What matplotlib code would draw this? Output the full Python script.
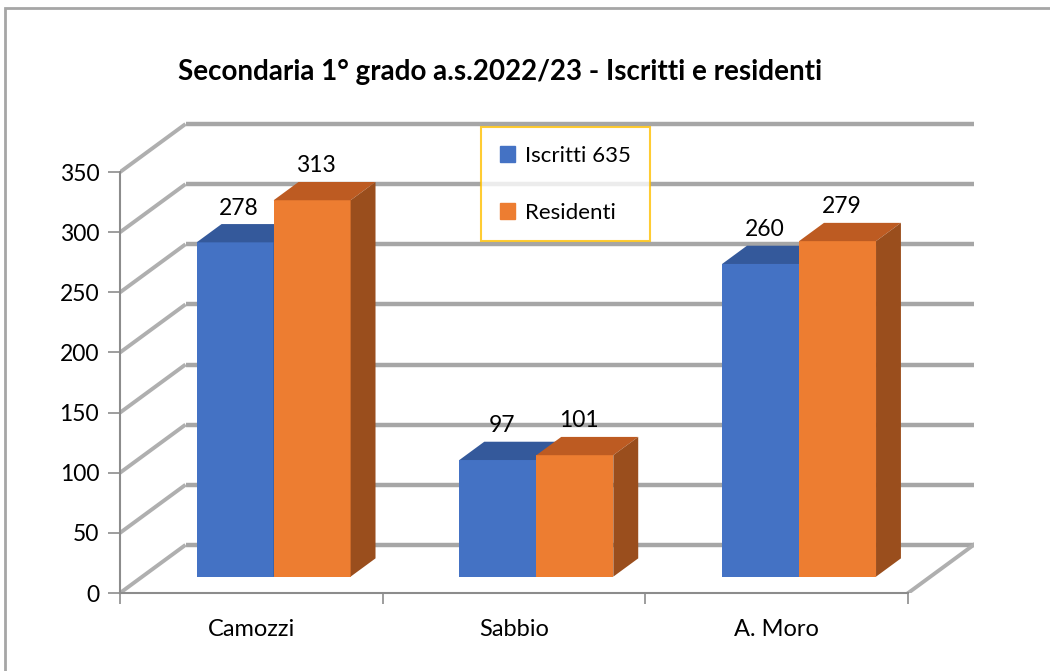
import matplotlib.pyplot as plt
from matplotlib.patches import Patch, Rectangle

# data
categories = ["Camozzi", "Sabbio", "A. Moro"]
iscritti = [278, 97, 260]
residenti = [313, 101, 279]
series_names = ["Iscritti 635", "Residenti"]
title = "Secondaria 1° grado a.s.2022/23 - Iscritti e residenti"
yticks = list(range(0, 351, 50))

# colours (front, top, side)
BLUE = ("#4472C4", "#34599B", "#2B4B80")
ORANGE = ("#ED7D31", "#BD5B22", "#9A4E1D")
GRID = "#A6A6A6"

plt.rcParams["font.family"] = ["Lato", "DejaVu Sans"]

# oblique "3d" projection: depth z in [0, 1]
DX = 0.2494   # x shift of the back wall, category units
DV = 40.0     # y shift of the back wall, value units
Z0, Z1 = 0.34, 0.72   # bar front / back depth
W = 0.293             # bar width, category units

fig = plt.figure(figsize=(10.5, 6.71), dpi=100)
ax = fig.add_axes([0.11429, 0.11624, 0.8130, 0.7079])
ax.set_xlim(0, 3 + DX)
ax.set_ylim(0, 395)

# back wall gridlines + left wall diagonals
for v in yticks:
    ax.plot([DX, 3 + DX], [v + DV, v + DV], color=GRID, lw=3.2, zorder=1,
            solid_capstyle="butt")
    ax.plot([0, DX], [v, v + DV], color="#AFAFAF", lw=2.8, zorder=1,
            solid_capstyle="butt")
# right floor diagonal
ax.plot([3, 3 + DX], [0, DV], color="#AFAFAF", lw=2.8, zorder=1)


def bar3d(x0, value, colors, z):
    front, top, side = colors
    sx, sv = Z0 * DX, Z0 * DV
    dx, dv = (Z1 - Z0) * DX, (Z1 - Z0) * DV
    ax.bar(x0 + sx, value, width=W, bottom=sv, align="edge",
           color=front, zorder=z, linewidth=0)
    xl, xr = x0 + sx, x0 + sx + W
    yt, yb = sv + value, sv
    ax.fill([xl, xr, xr + dx, xl + dx], [yt, yt, yt + dv, yt + dv],
            color=top, zorder=z, linewidth=0)
    ax.fill([xr, xr + dx, xr + dx, xr], [yb, yb + dv, yt + dv, yt],
            color=side, zorder=z, linewidth=0)
    ax.annotate(str(value), xy=(xl + W / 2 + 0.015, yt + dv),
                xytext=(0, 4), textcoords="offset points",
                ha="center", va="bottom", fontsize=16.5, zorder=10)


for i, cat in enumerate(categories):
    c = i + 0.5
    bar3d(c - W, iscritti[i], BLUE, 3 + i * 2)
    bar3d(c, residenti[i], ORANGE, 4 + i * 2)

# axes styling
for s in ["top", "right"]:
    ax.spines[s].set_visible(False)
ax.spines["left"].set_bounds(0, 350)
ax.spines["bottom"].set_bounds(0, 3)
for s in ["left", "bottom"]:
    ax.spines[s].set_color("#8C8C8C")
    ax.spines[s].set_linewidth(1.5)

ax.set_yticks(yticks)
ax.tick_params(axis="y", length=9, width=1.2, color="#8C8C8C",
               labelsize=16.5, pad=6)
ax.set_xticks([0, 1, 2, 3])
ax.set_xticklabels([])
ax.tick_params(axis="x", which="major", length=8, width=1.2, color="#8C8C8C")
ax.set_xticks([0.5, 1.5, 2.5], minor=True)
ax.set_xticklabels(categories, minor=True)
ax.tick_params(axis="x", which="minor", length=0, labelsize=17, pad=19)

fig.text(0.4767, 1 - 72 / 671, title, ha="center", va="center",
         fontsize=20, fontweight="bold")

handles = [Patch(color=BLUE[0]), Patch(color=ORANGE[0])]
leg = fig.legend(handles, series_names, loc="upper left",
                 bbox_to_anchor=(481 / 1050, 1 - 127 / 671),
                 frameon=True, fancybox=False, fontsize=16,
                 handlelength=0.7, handleheight=0.7, handletextpad=0.45,
                 labelspacing=1.65, borderpad=0.85, borderaxespad=0)
leg.get_frame().set_edgecolor("#FFC000")
leg.get_frame().set_linewidth(1.5)

# outer chart border
fig.patches.append(Rectangle((5 / 1050, -0.1), 1.2, 1.1 - 8 / 671,
                             transform=fig.transFigure, fill=False,
                             edgecolor="#A6A6A6", linewidth=2))

fig.savefig("out.png", dpi=100)
